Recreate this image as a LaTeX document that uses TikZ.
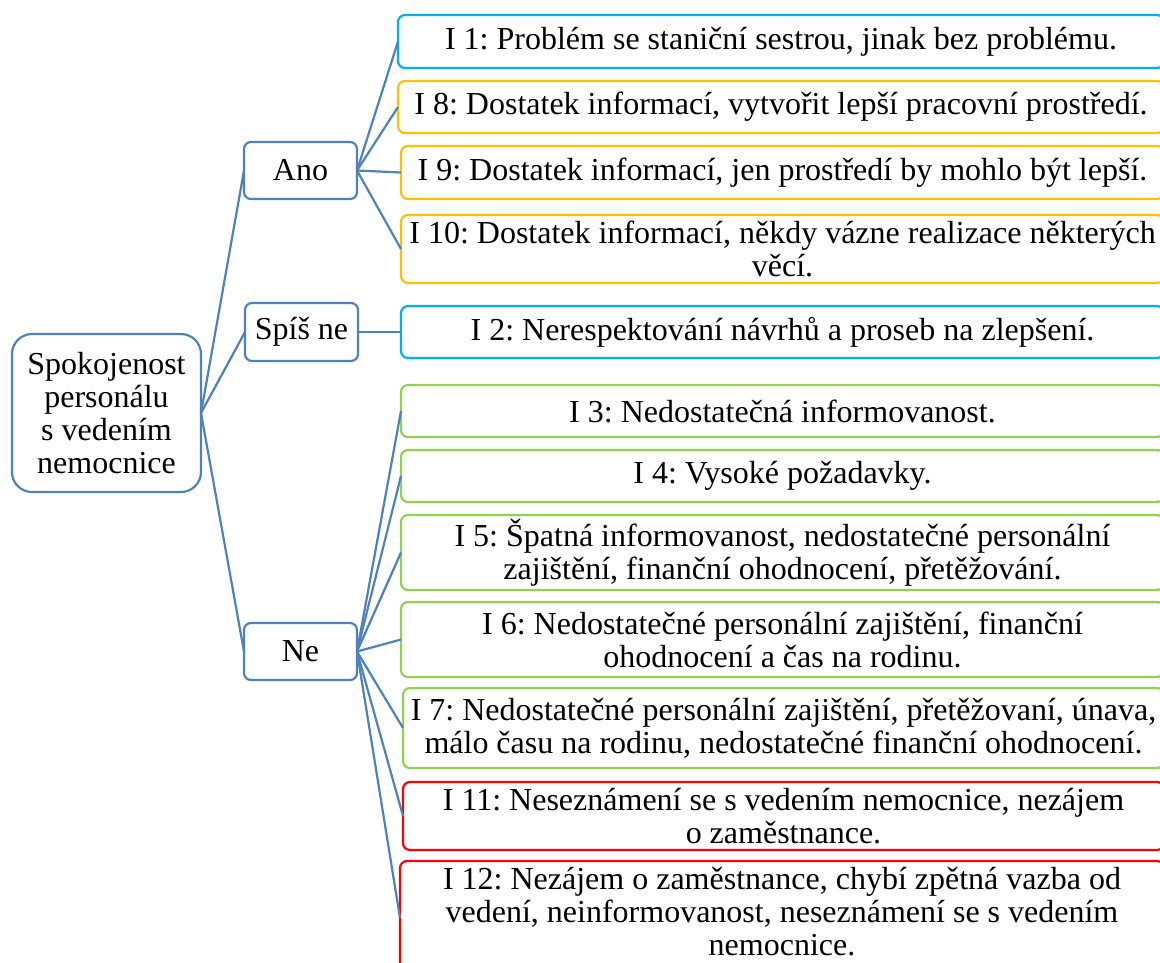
\documentclass[tikz,border=0pt]{standalone}
\usepackage{fontspec}
\setmainfont{Liberation Serif}
\newfontfamily\labelfont{Liberation Serif}
\frenchspacing
\definecolor{linkblue}{HTML}{4F81BD}
\definecolor{boxcyan}{HTML}{00B0F0}
\definecolor{boxorange}{HTML}{FFC000}
\definecolor{boxgreen}{HTML}{92D050}
\definecolor{boxred}{HTML}{FF0000}
\begin{document}
\begin{tikzpicture}[x=1pt,y=-1pt,
  every node/.style={font=\labelfont\fontsize{32}{33}\selectfont, align=center, inner sep=0pt, outer sep=0pt},
  hub/.style={draw=linkblue, line width=2.2pt, rounded corners=7pt},
  rootbox/.style={draw=linkblue, line width=2.2pt, rounded corners=20pt},
  leaf/.style={draw=#1, line width=2.2pt, rounded corners=7pt},
  link/.style={draw=linkblue, line width=2.2pt}]
\useasboundingbox (0,0) rectangle (1160,962);
\clip (0,0) rectangle (1160,962);

% root and the three answer groups
\node[rootbox, minimum width=189, minimum height=158] (root) at (106.5,413)
  {Spokojenost\\personálu\\s vedením\\nemocnice};
\node[hub, minimum width=113, minimum height=57] (ano) at (300.5,170.5) {Ano};
\node[hub, minimum width=113, minimum height=58] (spis) at (301.5,332) {Spíš ne};
\node[hub, minimum width=113, minimum height=57] (ne) at (300.5,651.5) {Ne};

% answers of the individual respondents
\node[leaf=boxcyan, minimum width=766, minimum height=53] (i1) at (781,41.5)
  {I 1: Problém se staniční sestrou, jinak bez problému.};
\node[leaf=boxorange, minimum width=766, minimum height=52] (i8) at (781,107)
  {I 8: Dostatek informací, vytvořit lepší pracovní prostředí.};
\node[leaf=boxorange, minimum width=763, minimum height=53] (i9) at (782.5,172.5)
  {I 9: Dostatek informací, jen prostředí by mohlo být lepší.};
\node[leaf=boxorange, minimum width=763, minimum height=68] (i10) at (782.5,249)
  {I 10: Dostatek informací, někdy vázne realizace některých\\věcí.};
\node[leaf=boxcyan, minimum width=763, minimum height=52] (i2) at (782.5,332)
  {I 2: Nerespektování návrhů a proseb na zlepšení.};
\node[leaf=boxgreen, minimum width=763, minimum height=52] (i3) at (782.5,411)
  {I 3: Nedostatečná informovanost.};
\node[leaf=boxgreen, minimum width=763, minimum height=52] (i4) at (782.5,476)
  {I 4: Vysoké požadavky.};
\node[leaf=boxgreen, minimum width=763, minimum height=75] (i5) at (782.5,552.5)
  {I 5: Špatná informovanost, nedostatečné personální\\zajištění, finanční ohodnocení, přetěžování.};
\node[leaf=boxgreen, minimum width=763, minimum height=75] (i6) at (782.5,639.5)
  {I 6: Nedostatečné personální zajištění, finanční\\ohodnocení a čas na rodinu.};
\node[leaf=boxgreen, minimum width=761, minimum height=80] (i7) at (783.5,728)
  {I 7: Nedostatečné personální zajištění, přetěžovaní, únava,\\málo času na rodinu, nedostatečné finanční ohodnocení.};
\node[leaf=boxred, minimum width=761, minimum height=68] (i11) at (783.5,816)
  {I 11: Neseznámení se s vedením nemocnice, nezájem\\o zaměstnance.};
\node[leaf=boxred, minimum width=764, minimum height=114] (i12) at (782,918) {};
\node (i12text) at (782,912)
  {I 12: Nezájem o zaměstnance, chybí zpětná vazba od\\vedení, neinformovanost, neseznámení se s vedením\\nemocnice.};

% connectors
\foreach \c in {ano,spis,ne} \draw[link] (root.east) -- (\c.west);
\foreach \c in {i1,i8,i9,i10} \draw[link] (ano.east) -- (\c.west);
\draw[link] (spis.east) -- (i2.west);
\foreach \c in {i3,i4,i5,i6,i7,i11,i12} \draw[link] (ne.east) -- (\c.west);
\end{tikzpicture}
\end{document}
